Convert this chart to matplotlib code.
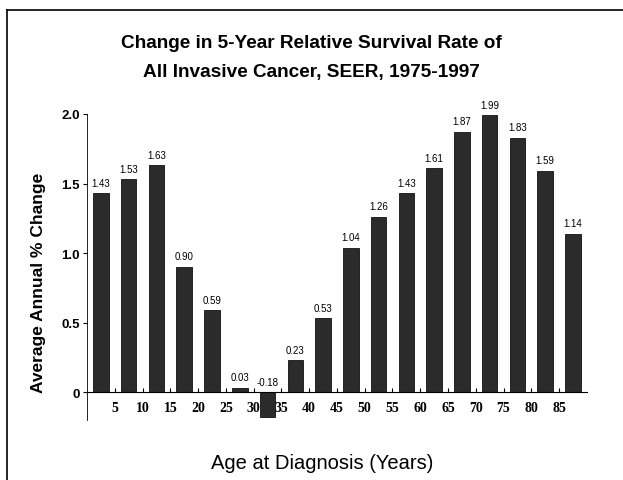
import matplotlib
matplotlib.use("Agg")
import matplotlib.pyplot as plt
import numpy as np

# average annual % change by 5-year age group
change = [1.43, 1.53, 1.63, 0.90, 0.59, 0.03, -0.18, 0.23, 0.53,
          1.04, 1.26, 1.43, 1.61, 1.87, 1.99, 1.83, 1.59, 1.14]
value_labels = ["1.43", "1.53", "1.63", "0.90", "0.59", "0.03", "-0.18", "0.23", "0.53",
                "1.04", "1.26", "1.43", "1.61", "1.87", "1.99", "1.83", "1.59", "1.14"]
age_ticks = [5, 10, 15, 20, 25, 30, 35, 40, 45, 50, 55, 60, 65, 70, 75, 80, 85]

plt.rcParams['font.family'] = ['Liberation Sans', 'DejaVu Sans']

fig = plt.figure(figsize=(6.23, 4.81), dpi=100)
ax = fig.add_axes([0.1397, 0.1247, 0.8023, 0.6363])

x = np.arange(len(change))
ax.bar(x, change, width=0.56, color='#2b2b2b', edgecolor='#111111', linewidth=0.6)

for xi, v, lab in zip(x, change, value_labels):
    ax.text(xi, max(v, 0) + 0.04, lab, ha='center', va='bottom', fontsize=7)

ax.set_xlim(-0.5, 17.5)
ax.set_ylim(-0.2, 2.0)
ax.spines['top'].set_visible(False)
ax.spines['right'].set_visible(False)
ax.spines['bottom'].set_position(('data', 0))
ax.spines['left'].set_linewidth(0.6)
ax.spines['bottom'].set_linewidth(0.8)

ax.set_yticks([0, 0.5, 1.0, 1.5, 2.0])
ax.set_yticklabels(['0', '0.5', '1.0', '1.5', '2.0'], fontsize=9.5, fontweight='bold')
ax.set_xticks(np.arange(len(age_ticks)) + 0.5)
ax.set_xticklabels([str(a) for a in age_ticks], fontsize=10, fontweight='bold',
                   family='Liberation Serif')
ax.tick_params(axis='x', length=3, direction='in', pad=6)
ax.tick_params(axis='y', length=3, direction='out', pad=2)

ax.set_ylabel('Average Annual % Change', fontsize=12.5, fontweight='bold')
ax.yaxis.set_label_coords(-0.082, 0.45)

fig.text(0.5, 0.927, 'Change in 5-Year Relative Survival Rate of\nAll Invasive Cancer, SEER, 1975-1997',
         ha='center', va='top', fontsize=13.7, fontweight='bold', linespacing=1.95)
fig.text(0.517, 0.037, 'Age at Diagnosis (Years)', ha='center', va='center', fontsize=14.5)

# scanned page frame
fig.add_artist(plt.Line2D([0.012, 0.012], [0.0, 0.978], color='black', lw=1.2))
fig.add_artist(plt.Line2D([0.012, 1.0], [0.978, 0.978], color='black', lw=1.2))

fig.savefig('out.png', dpi=100)
